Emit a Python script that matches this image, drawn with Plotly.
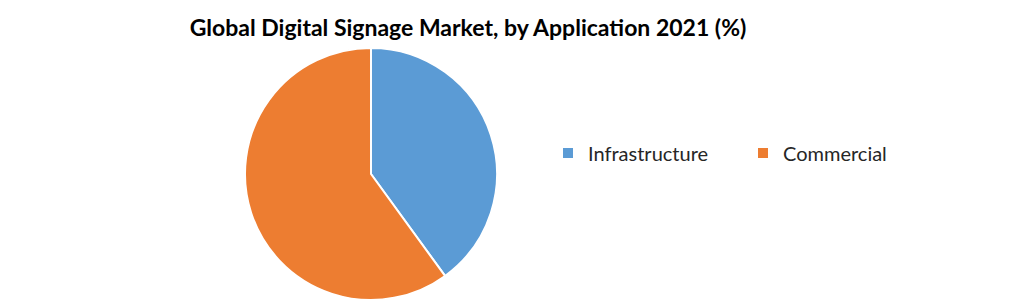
import plotly.graph_objects as go

categories = ["Infrastructure", "Commercial"]
values = [40, 60]
colors = ["#5B9BD5", "#ED7D31"]

W, H = 1020, 303
cx, cy, r = 371, 174, 126

fig = go.Figure(go.Pie(
    labels=categories,
    values=values,
    sort=False,
    direction="clockwise",
    rotation=0,
    textinfo="none",
    hoverinfo="label+percent",
    marker=dict(colors=colors, line=dict(color="white", width=2)),
    domain=dict(x=[(cx - r) / W, (cx + r) / W], y=[(H - cy - r) / H, (H - cy + r) / H]),
))

fig.update_layout(
    width=W, height=H,
    margin=dict(l=0, r=0, t=0, b=0),
    paper_bgcolor="white",
    plot_bgcolor="white",
    title=dict(text="<b>Global Digital Signage Market, by Application 2021 (%)</b>",
               x=468 / W, xanchor="center", y=1 - 28 / H, yanchor="middle",
               font=dict(family="Lato", size=23, color="black")),
    legend=dict(orientation="h", x=548 / W, xanchor="left", y=1 - 153 / H, yanchor="middle",
                font=dict(family="Lato", size=20, color="#262626"),
                itemwidth=30, tracegroupgap=0, entrywidth=150,
                bgcolor="rgba(0,0,0,0)"),
    showlegend=True,
)

fig.write_html("out.html")
